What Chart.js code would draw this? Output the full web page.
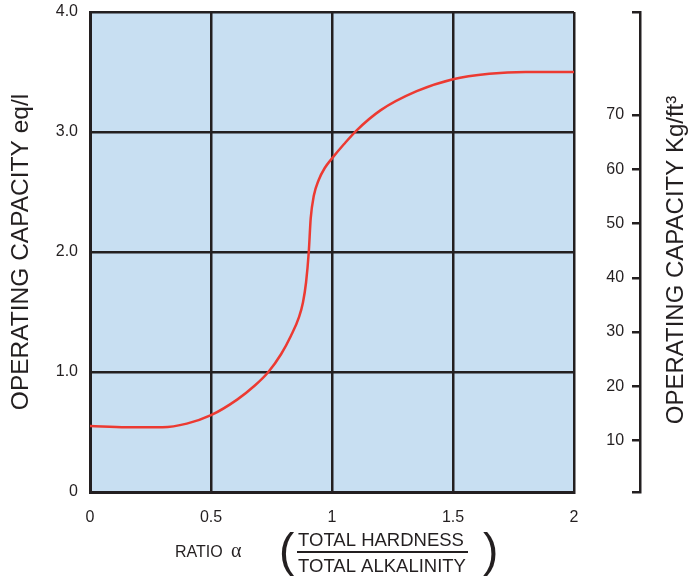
<!DOCTYPE html>
<html>
<head>
<meta charset="utf-8">
<script src="https://cdn.jsdelivr.net/npm/chart.js@4/dist/chart.umd.min.js"></script>
<style>
  html, body { margin: 0; padding: 0; background: #fff; }
</style>
</head>
<body>
<canvas id="capacityChart" width="688" height="581"></canvas>
<script>
// curve: ratio alpha vs operating capacity (eq/l)
const ratio = [0, 0.15, 0.3, 0.4, 0.5, 0.608, 0.68, 0.737, 0.79, 0.83, 0.864, 0.88, 0.893, 0.904, 0.912, 0.925, 0.945, 0.97, 1.0, 1.05, 1.1, 1.2, 1.35, 1.5, 1.65, 1.8, 2.0];
const capacity = [0.55, 0.54, 0.54, 0.57, 0.64, 0.77, 0.885, 1.0, 1.15, 1.3, 1.46, 1.58, 1.75, 2.0, 2.28, 2.47, 2.6, 2.7, 2.78, 2.9, 3.01, 3.18, 3.34, 3.44, 3.485, 3.5, 3.5];

const xTicks = [0, 0.5, 1, 1.5, 2];
const yTicks = [0, 1, 2, 3, 4];
const kgTicks = [10, 20, 30, 40, 50, 60, 70];
const kgRange = [0.5, 89];

const ink = '#231f20';
Chart.defaults.font.family = "'Liberation Sans', Arial, sans-serif";
Chart.defaults.color = ink;

const panelFill = {
    id: 'panelFill',
    beforeDraw(chart) {
        const { ctx, chartArea: a } = chart;
        ctx.save();
        ctx.fillStyle = '#c8dff2';
        ctx.fillRect(a.left, a.top, a.right - a.left, a.bottom - a.top);
        ctx.restore();
    },
};

// right axis title (reads upward) and the ratio title with its fraction
const extraTitles = {
    id: 'extraTitles',
    afterDraw(chart) {
        const ctx = chart.ctx;
        ctx.save();
        ctx.fillStyle = ink;
        ctx.strokeStyle = ink;

        ctx.save();
        ctx.translate(676, 260);
        ctx.rotate(-Math.PI / 2);
        ctx.font = "24px 'Liberation Sans', Arial, sans-serif";
        ctx.textAlign = 'center';
        ctx.textBaseline = 'middle';
        ctx.fillText('OPERATING CAPACITY Kg/ft³', 0, 0);
        ctx.restore();

        ctx.textBaseline = 'alphabetic';
        ctx.textAlign = 'left';
        ctx.font = "16px 'Liberation Sans', Arial, sans-serif";
        ctx.fillText('RATIO', 175, 557);
        ctx.font = "20px 'Liberation Serif', serif";
        ctx.fillText('α', 231, 557);

        ctx.font = "46px 'Liberation Sans', Arial, sans-serif";
        ctx.fillText('(', 279, 566);
        ctx.fillText(')', 483, 566);

        ctx.font = "18.5px 'Liberation Sans', Arial, sans-serif";
        ctx.textAlign = 'center';
        ctx.fillText('TOTAL HARDNESS', 381, 546);
        ctx.fillText('TOTAL ALKALINITY', 382, 572);
        ctx.lineWidth = 2;
        ctx.beginPath();
        ctx.moveTo(297, 552);
        ctx.lineTo(468, 552);
        ctx.stroke();
        ctx.restore();
    },
};

const noEdgePadding = s => { s.paddingTop = 0; s.paddingBottom = 0; };

const ctx = document.getElementById('capacityChart').getContext('2d');
const capacityChart = new Chart(ctx, {
    type: 'line',
    data: {
        datasets: [{
            label: 'Operating capacity',
            data: ratio.map((r, i) => ({ x: r, y: capacity[i] })),
            borderColor: '#ec3a32',
            borderWidth: 2.5,
            pointRadius: 0,
            cubicInterpolationMode: 'monotone',
            fill: false,
        }],
    },
    options: {
        responsive: false,
        animation: false,
        layout: { padding: { top: 12, right: 114, left: 0, bottom: 0 } },
        plugins: { legend: { display: false }, tooltip: { enabled: false } },
        scales: {
            x: {
                type: 'linear',
                min: 0, max: 2,
                afterBuildTicks: s => { s.ticks = xTicks.map(v => ({ value: v })); },
                afterFit: s => { s.height = 89; },
                ticks: { callback: v => String(v), padding: 16, font: { size: 16 } },
                grid: { color: ink, lineWidth: 2.5, drawTicks: false },
                border: { color: ink, width: 3 },
            },
            y: {
                type: 'linear',
                position: 'left',
                min: 0, max: 4,
                afterBuildTicks: s => { s.ticks = yTicks.map(v => ({ value: v })); },
                afterFit: s => { s.width = 90; noEdgePadding(s); },
                ticks: { callback: v => (v === 0 ? '0' : v.toFixed(1)), padding: 12, font: { size: 16 } },
                grid: { color: ink, lineWidth: 2.5, drawTicks: false },
                border: { color: ink, width: 3 },
                title: { display: true, text: 'OPERATING CAPACITY eq/l', font: { size: 24.5 }, padding: { top: 7, bottom: 0 } },
            },
            kg: {
                type: 'linear',
                axis: 'y',
                position: { x: 2.273 },
                min: kgRange[0], max: kgRange[1],
                afterBuildTicks: s => {
                    s.ticks = [kgRange[0], ...kgTicks, kgRange[1]].map(v => ({ value: v }));
                },
                afterFit: noEdgePadding,
                // labels sit right-aligned on the axis line, the en spaces keep them clear of the tick marks
                ticks: { callback: v => (kgTicks.includes(v) ? v + '\u2002\u2002' : ''), padding: 0, font: { size: 16 } },
                grid: { color: ink, lineWidth: 2.5, drawOnChartArea: false, drawTicks: true, tickLength: 7 },
                border: { color: ink, width: 2.5 },
            },
        },
    },
    plugins: [panelFill, extraTitles],
});
</script>
</body>
</html>
